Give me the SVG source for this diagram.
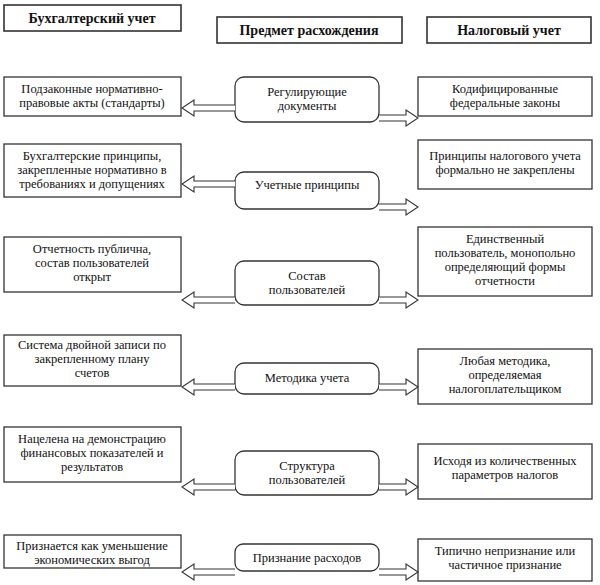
<svg xmlns="http://www.w3.org/2000/svg" width="600" height="585" viewBox="0 0 600 585">
<style>
rect{fill:#fff;stroke:#333;stroke-width:1.3}
.h{stroke-width:1.6}
text{font-family:"Liberation Serif","Tinos","Times New Roman","DejaVu Serif",serif;font-size:12.5px;fill:#111;text-anchor:middle}
.b{font-weight:bold;font-size:14px}
.a{fill:#fff;stroke:#333;stroke-width:1.1}
</style>
<rect width="600" height="585" style="fill:#fff;stroke:none"/>
<g id="h1"><rect class="h" x="4" y="5" width="177" height="26"/><text class="b" x="92" y="23">Бухгалтерский учет</text></g>
<g id="h2"><rect class="h" x="217" y="17" width="185" height="26"/><text class="b" x="309" y="35">Предмет расхождения</text></g>
<g id="h3"><rect class="h" x="427" y="17" width="164" height="26"/><text class="b" x="509" y="35">Налоговый учет</text></g>

<g id="l1"><rect x="4" y="77" width="177" height="39"/><text x="92" y="93">Подзаконные нормативно-</text><text x="92" y="107">правовые акты (стандарты)</text></g>
<g id="c1"><rect x="235" y="77" width="144" height="45" rx="9"/><text x="307" y="96">Регулирующие</text><text x="307" y="110">документы</text></g>
<g id="r1"><rect x="418" y="77" width="174" height="39"/><text x="505" y="93">Кодифицированные</text><text x="505" y="107">федеральные законы</text></g>

<g id="l2"><rect x="4" y="144" width="177" height="53"/><text x="92" y="160">Бухгалтерские принципы,</text><text x="92" y="174">закрепленные нормативно в</text><text x="92" y="188">требованиях и допущениях</text></g>
<g id="c2"><rect x="235" y="172" width="144" height="37" rx="9"/><text x="307" y="189">Учетные принципы</text></g>
<g id="r2"><rect x="418" y="140" width="174" height="49"/><text x="505" y="160">Принципы налогового учета</text><text x="505" y="174">формально не закреплены</text></g>

<g id="l3"><rect x="4" y="237" width="177" height="55"/><text x="92" y="253">Отчетность публична,</text><text x="92" y="267">состав пользователей</text><text x="92" y="281">открыт</text></g>
<g id="c3"><rect x="235" y="261" width="144" height="44" rx="9"/><text x="307" y="280">Состав</text><text x="307" y="294">пользователей</text></g>
<g id="r3"><rect x="418" y="227" width="174" height="69"/><text x="505" y="243">Единственный</text><text x="505" y="257">пользователь, монопольно</text><text x="505" y="271">определяющий формы</text><text x="505" y="285">отчетности</text></g>

<g id="l4"><rect x="4" y="335" width="177" height="51"/><text x="92" y="349">Система двойной записи по</text><text x="92" y="363">закрепленному плану</text><text x="92" y="377">счетов</text></g>
<g id="c4"><rect x="235" y="363" width="144" height="31" rx="9"/><text x="307" y="382">Методика учета</text></g>
<g id="r4"><rect x="418" y="349" width="174" height="55"/><text x="505" y="365">Любая методика,</text><text x="505" y="379">определяемая</text><text x="505" y="393">налогоплательщиком</text></g>

<g id="l5"><rect x="4" y="427" width="177" height="55"/><text x="92" y="443">Нацелена на демонстрацию</text><text x="92" y="457">финансовых показателей и</text><text x="92" y="471">результатов</text></g>
<g id="c5"><rect x="235" y="451" width="144" height="44" rx="9"/><text x="307" y="470">Структура</text><text x="307" y="484">пользователей</text></g>
<g id="r5"><rect x="418" y="444" width="174" height="55"/><text x="505" y="465">Исходя из количественных</text><text x="505" y="479">параметров налогов</text></g>

<g id="l6"><rect x="4" y="535" width="177" height="33"/><text x="92" y="550">Признается как уменьшение</text><text x="92" y="564">экономических выгод</text></g>
<g id="c6"><rect x="235" y="544" width="144" height="27" rx="8"/><text x="307" y="562">Признание расходов</text></g>
<g id="r6"><rect x="418" y="539" width="174" height="42"/><text x="505" y="555">Типично непризнание или</text><text x="505" y="569">частичное признание</text></g>

<g id="connectors">
<path class="a" d="M235,105 H194 V100 L182,108 L194,116 V111 H235"/>
<path class="a" d="M379,115 H406 V110 L418,118 L406,126 V121 H379"/>
<path class="a" d="M235,181 H194 V176 L182,184 L194,192 V187 H235"/>
<path class="a" d="M379,204 H406 V199 L418,207 L406,215 V210 H379"/>
<path class="a" d="M235,297 H194 V292 L182,300 L194,308 V303 H235"/>
<path class="a" d="M379,297 H406 V292 L418,300 L406,308 V303 H379"/>
<path class="a" d="M235,384 H194 V379 L182,387 L194,395 V390 H235"/>
<path class="a" d="M379,384 H406 V379 L418,387 L406,395 V390 H379"/>
<path class="a" d="M235,484 H194 V479 L182,487 L194,495 V490 H235"/>
<path class="a" d="M379,484 H406 V479 L418,487 L406,495 V490 H379"/>
<path class="a" d="M235,569 H194 V564 L182,572 L194,580 V575 H235"/>
<path class="a" d="M379,569 H406 V564 L418,572 L406,580 V575 H379"/>
</g>
</svg>
